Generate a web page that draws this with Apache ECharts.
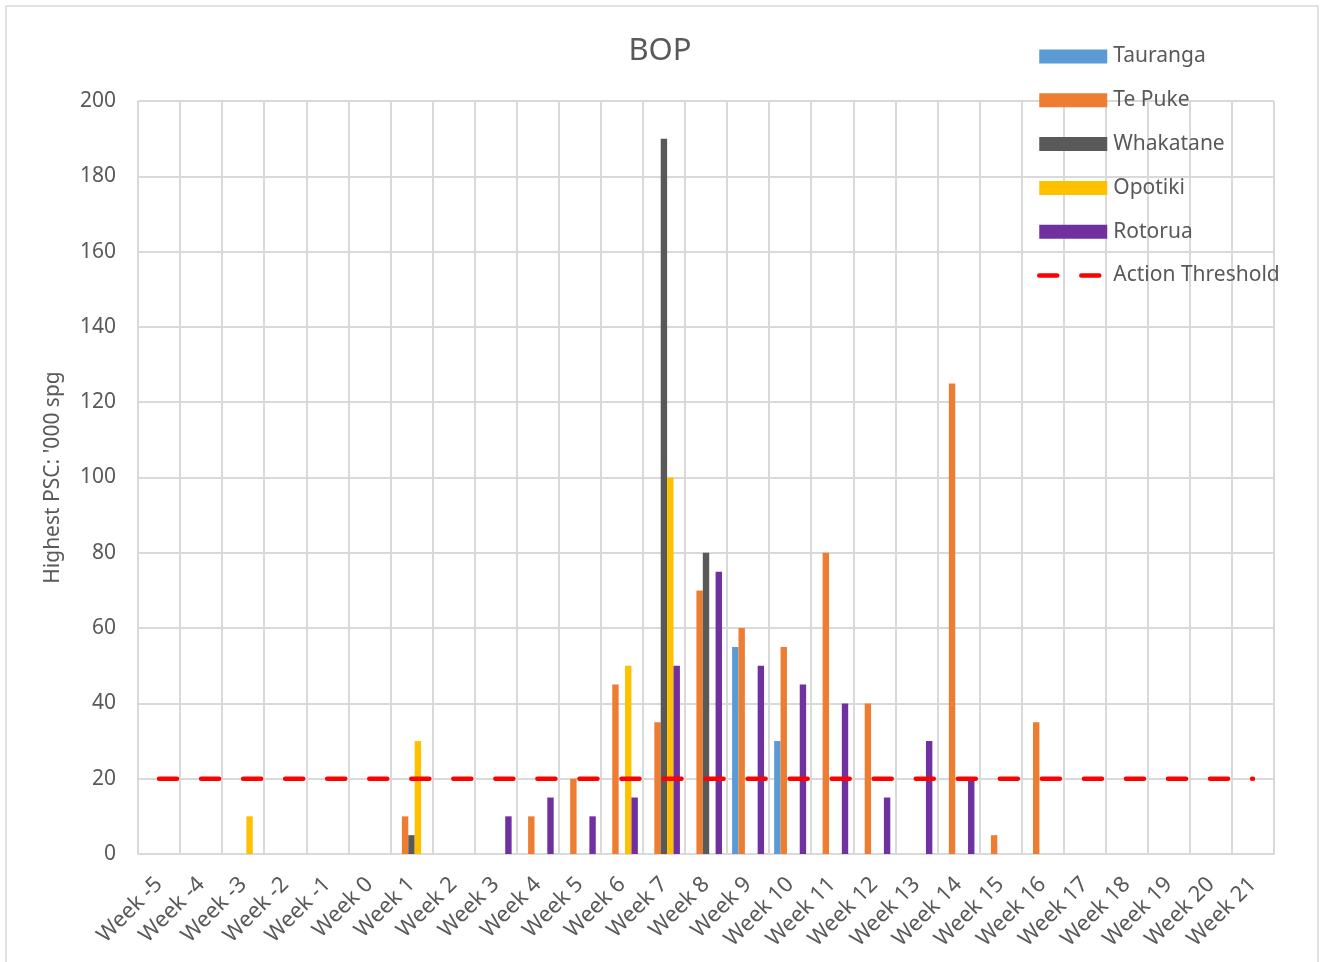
<!DOCTYPE html>
<html>
<head>
<meta charset="utf-8">
<title>BOP</title>
<script src="https://cdn.jsdelivr.net/npm/echarts@6/dist/echarts.min.js"></script>
<style>
html, body { margin: 0; padding: 0; background: #fff; }
#chart { width: 1320px; height: 962px; }
</style>
</head>
<body>
<div id="chart"></div>
<script>
var weeks = ['Week -5', 'Week -4', 'Week -3', 'Week -2', 'Week -1', 'Week 0', 'Week 1', 'Week 2',
  'Week 3', 'Week 4', 'Week 5', 'Week 6', 'Week 7', 'Week 8', 'Week 9', 'Week 10', 'Week 11',
  'Week 12', 'Week 13', 'Week 14', 'Week 15', 'Week 16', 'Week 17', 'Week 18', 'Week 19',
  'Week 20', 'Week 21']

// one value per week, null where nothing was drawn
var tauranga  = [null, null, null, null, null, null, null, null, null, null, null, null, null, null, 55, 30, null, null, null, null, null, null, null, null, null, null, null]
var tePuke    = [null, null, null, null, null, null, 10, null, null, 10, 20, 45, 35, 70, 60, 55, 80, 40, null, 125, 5, 35, null, null, null, null, null]
var whakatane = [null, null, null, null, null, null, 5, null, null, null, null, null, 190, 80, null, null, null, null, null, null, null, null, null, null, null, null, null]
var opotiki   = [null, null, 10, null, null, null, 30, null, null, null, null, 50, 100, null, null, null, null, null, null, null, null, null, null, null, null, null, null]
var rotorua   = [null, null, null, null, null, null, null, null, 10, 15, 10, 15, 50, 75, 50, 45, 40, 15, 30, 20, null, null, null, null, null, null, null]
var threshold = [20, 20, 20, 20, 20, 20, 20, 20, 20, 20, 20, 20, 20, 20, 20, 20, 20, 20, 20, 20, 20, 20, 20, 20, 20, 20, 20]

var font = 'Noto Sans'
var grey = '#595959'
var gridColor = '#d9d9d9'

function bar (name, data, color) {
  return {
    name: name,
    type: 'bar',
    data: data,
    barGap: '0%',
    barCategoryGap: '24%',
    itemStyle: { color: color }
  }
}

var chart = echarts.init(document.getElementById('chart'))
var option = {
  backgroundColor: '#fff',
  animation: false,
  textStyle: { fontFamily: font },
  title: {
    text: 'BOP',
    left: 'center',
    top: 31,
    textStyle: { fontFamily: font, fontSize: 31, fontWeight: 'normal', color: grey }
  },
  legend: {
    orient: 'vertical',
    left: 1032,
    top: 41,
    itemWidth: 68,
    itemHeight: 14,
    itemGap: 22.8,
    textStyle: { fontFamily: font, fontSize: 21, color: grey, padding: [0, 0, 0, 1] },
    data: [
      { name: 'Tauranga', icon: 'rect' },
      { name: 'Te Puke', icon: 'rect' },
      { name: 'Whakatane', icon: 'rect' },
      { name: 'Opotiki', icon: 'rect' },
      { name: 'Rotorua', icon: 'rect' },
      { name: 'Action Threshold', itemStyle: { opacity: 0 }, lineStyle: { width: 4.5, cap: 'round' } }
    ]
  },
  grid: { left: 138, right: 46, top: 101, bottom: 108 },
  xAxis: {
    type: 'category',
    data: weeks,
    axisTick: { show: false },
    axisLine: { lineStyle: { color: gridColor, width: 2 } },
    splitLine: { show: true, lineStyle: { color: gridColor, width: 2 } },
    axisLabel: { rotate: 45, interval: 0, margin: 27, fontFamily: font, fontSize: 22, color: grey }
  },
  yAxis: {
    type: 'value',
    min: 0,
    max: 200,
    interval: 20,
    name: "Highest PSC: '000 spg",
    nameLocation: 'middle',
    nameGap: 74,
    nameTextStyle: { fontFamily: font, fontSize: 21, color: grey },
    axisLine: { show: false },
    axisTick: { show: false },
    splitLine: { lineStyle: { color: gridColor, width: 2 } },
    axisLabel: { margin: 22, fontFamily: font, fontSize: 21, color: grey }
  },
  graphic: [{
    type: 'rect',
    shape: { x: 6, y: 6, width: 1312, height: 970 },
    style: { fill: null, stroke: gridColor, lineWidth: 1.5 },
    silent: true
  }],
  series: [
    bar('Tauranga', tauranga, '#5B9BD5'),
    bar('Te Puke', tePuke, '#ED7D31'),
    bar('Whakatane', whakatane, '#595959'),
    bar('Opotiki', opotiki, '#FFC000'),
    bar('Rotorua', rotorua, '#7030A0'),
    {
      name: 'Action Threshold',
      type: 'line',
      data: threshold,
      symbol: 'none',
      z: 5,
      itemStyle: { color: '#FF0000' },
      lineStyle: { color: '#FF0000', width: 4.5, type: [18, 24.04], cap: 'round' }
    }
  ]
}
chart.setOption(option)
</script>
</body>
</html>
